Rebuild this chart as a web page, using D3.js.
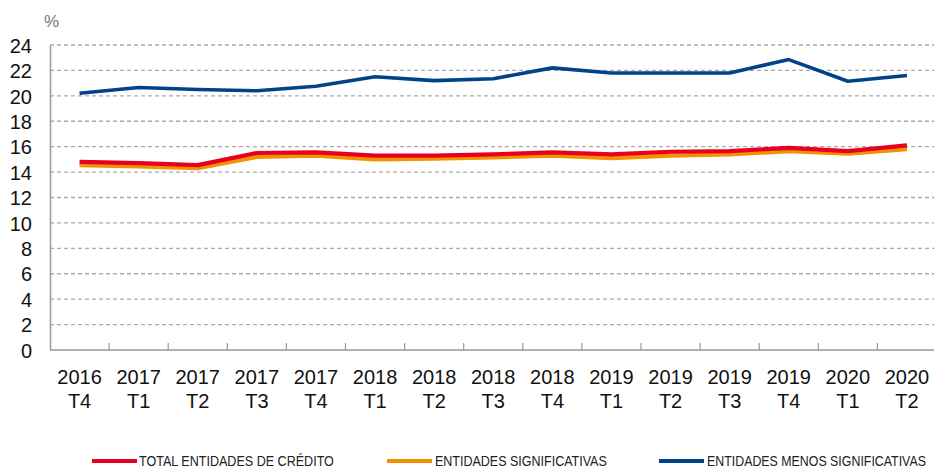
<!DOCTYPE html>
<html>
<head>
<meta charset="utf-8">
<script src="https://cdn.jsdelivr.net/npm/d3@7"></script>
<style>
  body { margin: 0; background: #fff; }
  .grid line { stroke: #aaa; stroke-width: 1.3px; stroke-dasharray: 4,3; }
  .tick text { font-family: "Liberation Sans", Arial, sans-serif; font-size: 20px; fill: #111; }
  .legend text { font-family: "Liberation Sans Narrow", "Liberation Sans", Arial, sans-serif; font-size: 15px; fill: #222; }
</style>
</head>
<body>
<svg id="chart" width="934" height="471"></svg>
<script>
// quarters (two-line labels)
var years = ['2016','2017','2017','2017','2017','2018','2018','2018','2018','2019','2019','2019','2019','2020','2020'];
var quarters = ['T4','T1','T2','T3','T4','T1','T2','T3','T4','T1','T2','T3','T4','T1','T2'];

var totalEntidades = [14.8, 14.7, 14.55, 15.5, 15.55, 15.3, 15.3, 15.4, 15.55, 15.4, 15.6, 15.65, 15.9, 15.65, 16.1];
var significativas = [14.55, 14.45, 14.3, 15.2, 15.3, 15.0, 15.05, 15.15, 15.3, 15.1, 15.3, 15.4, 15.65, 15.45, 15.8];
var menosSignificativas = [20.2, 20.65, 20.5, 20.4, 20.75, 21.5, 21.2, 21.35, 22.2, 21.8, 21.8, 21.8, 22.85, 21.15, 21.6];

var yTicks = [0, 2, 4, 6, 8, 10, 12, 14, 16, 18, 20, 22, 24];

var series = [
  { name: 'TOTAL ENTIDADES DE CRÉDITO', values: totalEntidades, color: '#e8001c', width: 4.2, lx: 92, tx: 139, tw: 195 },
  { name: 'ENTIDADES SIGNIFICATIVAS', values: significativas, color: '#f39200', width: 4.2, lx: 387, tx: 435, tw: 172 },
  { name: 'ENTIDADES MENOS SIGNIFICATIVAS', values: menosSignificativas, color: '#004389', width: 3.6, lx: 659, tx: 707, tw: 219 }
];

var svg = d3.select('#chart');
var plotLeft = 50, plotTop = 45, plotBottom = 350, bandW = 59.1;
var keys = d3.range(years.length);

var x = d3.scaleBand().domain(keys).range([plotLeft, plotLeft + bandW * keys.length]);
var y = d3.scaleLinear().domain([0, 24]).range([plotBottom, plotTop]);

// dashed gridlines
svg.append('g').attr('class', 'grid')
  .selectAll('line')
  .data(yTicks.filter(d => d > 0))
  .enter().append('line')
  .attr('x1', plotLeft).attr('x2', 934)
  .attr('y1', d => y(d)).attr('y2', d => y(d));

// y axis
var yAxis = svg.append('g')
  .attr('transform', 'translate(' + plotLeft + ',0)')
  .call(d3.axisLeft(y).tickValues(yTicks).tickSize(0).tickPadding(18));
yAxis.select('.domain').attr('stroke', '#999').attr('stroke-width', 1.5);
yAxis.selectAll('.tick text').attr('dy', '0.36em');

// x axis, ticks at band edges pointing up
var xAxis = svg.append('g')
  .attr('transform', 'translate(0,' + plotBottom + ')');
xAxis.append('line')
  .attr('x1', plotLeft).attr('x2', 934)
  .attr('stroke', '#999').attr('stroke-width', 1.5);
xAxis.selectAll('.edge')
  .data(keys.slice(1))
  .enter().append('line')
  .attr('class', 'edge')
  .attr('x1', d => x(d)).attr('x2', d => x(d))
  .attr('y1', 0).attr('y2', -7)
  .attr('stroke', '#999').attr('stroke-width', 1.2);

var lbl = xAxis.selectAll('.lbl')
  .data(keys)
  .enter().append('g').attr('class', 'tick lbl')
  .attr('transform', d => 'translate(' + (x(d) + x.bandwidth() / 2) + ',0)');
lbl.append('text').attr('text-anchor', 'middle').attr('y', 34).text(d => years[d]);
lbl.append('text').attr('text-anchor', 'middle').attr('y', 58).text(d => quarters[d]);

// % unit label
svg.append('text')
  .attr('x', 44).attr('y', 27)
  .style('font-family', '"Liberation Sans", Arial, sans-serif')
  .style('font-size', '17px').style('fill', '#777')
  .text('%');

var line = d3.line()
  .x((d, i) => x(i) + x.bandwidth() / 2)
  .y(d => y(d));

// orange first so red sits above it
[series[1], series[0], series[2]].forEach(s => {
  svg.append('path')
    .attr('d', line(s.values))
    .attr('fill', 'none')
    .attr('stroke', s.color)
    .attr('stroke-width', s.width)
    .attr('stroke-linejoin', 'round');
});

// legend - squeeze text horizontally to mimic the narrow font
var legend = svg.append('g').attr('class', 'legend');
series.forEach(s => {
  legend.append('line')
    .attr('x1', s.lx).attr('x2', s.lx + 45)
    .attr('y1', 461).attr('y2', 461)
    .attr('stroke', s.color).attr('stroke-width', 4);
  var t = legend.append('text').text(s.name);
  var natural = t.node().getComputedTextLength();
  t.attr('transform', 'translate(' + s.tx + ',466) scale(' + (s.tw / natural) + ',1)');
});
</script>
</body>
</html>
